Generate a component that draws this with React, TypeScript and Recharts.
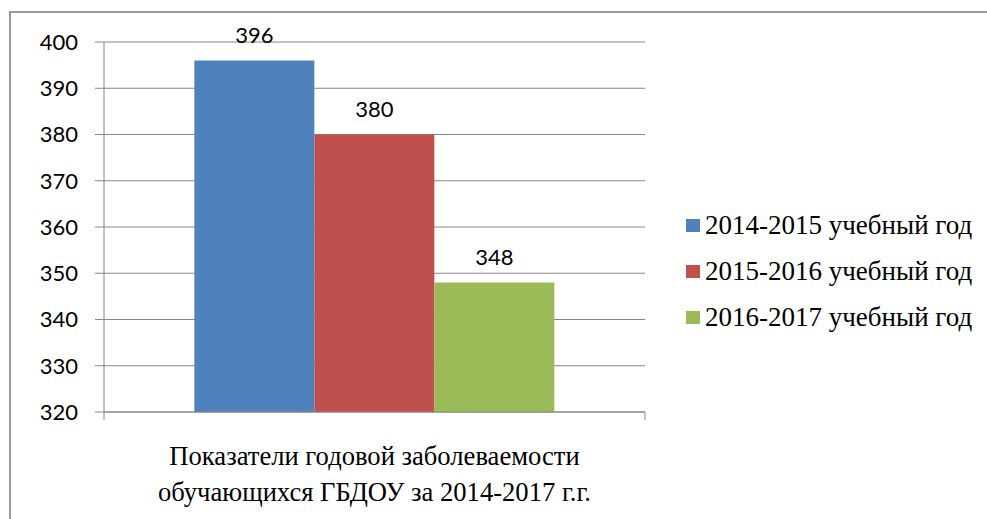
import React from "react";
import { BarChart, Bar, XAxis, YAxis, CartesianGrid, Legend, LabelList } from "recharts";

const categories = ["Показатели годовой заболеваемости|обучающихся ГБДОУ за 2014-2017 г.г."];
const series1 = [396];
const series2 = [380];
const series3 = [348];
const seriesNames = ["2014-2015 учебный год", "2015-2016 учебный год", "2016-2017 учебный год"];
const seriesColors = ["#4F81BD", "#C0504D", "#9BBB59"];
const yTicks = [320, 330, 340, 350, 360, 370, 380, 390, 400];

const data = categories.map((c, i) => ({
  name: c,
  s1: series1[i],
  s2: series2[i],
  s3: series3[i],
}));

const GRID = "#868686";
const SANS = "Lato, 'Open Sans', sans-serif";
const SERIF = "'Liberation Serif', 'Times New Roman', serif";

const CategoryTick = (props: any) => {
  const { x, y, payload, width } = props;
  const lines = String(payload.value).split("|");
  const half = typeof width === "number" ? width / (2 * categories.length) : 0;
  return (
    <g>
      {half > 0 && (
        <>
          <line x1={x - half} x2={x - half} y1={y} y2={y + 8} stroke={GRID} />
          <line x1={x + half} x2={x + half} y1={y} y2={y + 8} stroke={GRID} />
        </>
      )}
      {lines.map((l: string, i: number) => (
        <text
          key={i}
          x={x}
          y={y + 53 + i * 36}
          textAnchor="middle"
          fontFamily={SERIF}
          fontSize={26.6}
          fill="#000"
        >
          {l}
        </text>
      ))}
    </g>
  );
};

const LegendContent = (props: any) => {
  const { payload } = props;
  return (
    <div>
      {(payload || []).map((p: any, i: number) => (
        <div
          key={i}
          style={{ display: "flex", alignItems: "center", height: 46 }}
        >
          <span
            style={{
              display: "inline-block",
              width: 14,
              height: 13,
              background: p.color,
              marginRight: 5,
            }}
          />
          <span style={{ fontFamily: SERIF, fontSize: 27, color: "#000", whiteSpace: "nowrap" }}>
            {p.value}
          </span>
        </div>
      ))}
    </div>
  );
};

export default function App() {
  return (
    <div style={{ position: "absolute", left: 0, top: 0, width: 987, height: 519, overflow: "hidden", background: "#fff" }}>
      <div
        style={{
          position: "absolute",
          left: 9,
          top: 11,
          width: 1000,
          height: 600,
          borderTop: "2px solid #9a9a9a",
          borderLeft: "2px solid #9a9a9a",
          boxSizing: "border-box",
        }}
      />
      <div style={{ position: "absolute", left: 0, top: 0 }}>
        <BarChart
          width={987}
          height={519}
          data={data}
          margin={{ top: 42, right: 42, left: 0, bottom: 0 }}
          barCategoryGap="16.7%"
          barGap={0}
        >
          <CartesianGrid vertical={false} stroke={GRID} />
          <XAxis
            dataKey="name"
            height={107}
            axisLine={{ stroke: GRID }}
            tickLine={false}
            tickSize={0}
            tickMargin={0}
            interval={0}
            tick={CategoryTick}
          />
          <YAxis
            domain={[320, 400]}
            ticks={yTicks}
            width={104}
            tickSize={9}
            tickMargin={17}
            axisLine={{ stroke: GRID }}
            tickLine={{ stroke: GRID }}
            tick={{ fill: "#000", fontFamily: SANS, fontSize: 22 }}
            allowDataOverflow
          />
          <Legend
            layout="horizontal"
            verticalAlign="middle"
            align="right"
            content={LegendContent}
            wrapperStyle={{ position: "absolute", left: 686, top: 202, width: 300 }}
          />
          {["s1", "s2", "s3"].map((k, i) => (
            <Bar
              key={k}
              dataKey={k}
              name={seriesNames[i]}
              fill={seriesColors[i]}
              isAnimationActive={false}
            >
              <LabelList
                dataKey={k}
                position="top"
                offset={18}
                fill="#000"
                fontFamily={SANS}
                fontSize={22}
              />
            </Bar>
          ))}
        </BarChart>
      </div>
    </div>
  );
}
